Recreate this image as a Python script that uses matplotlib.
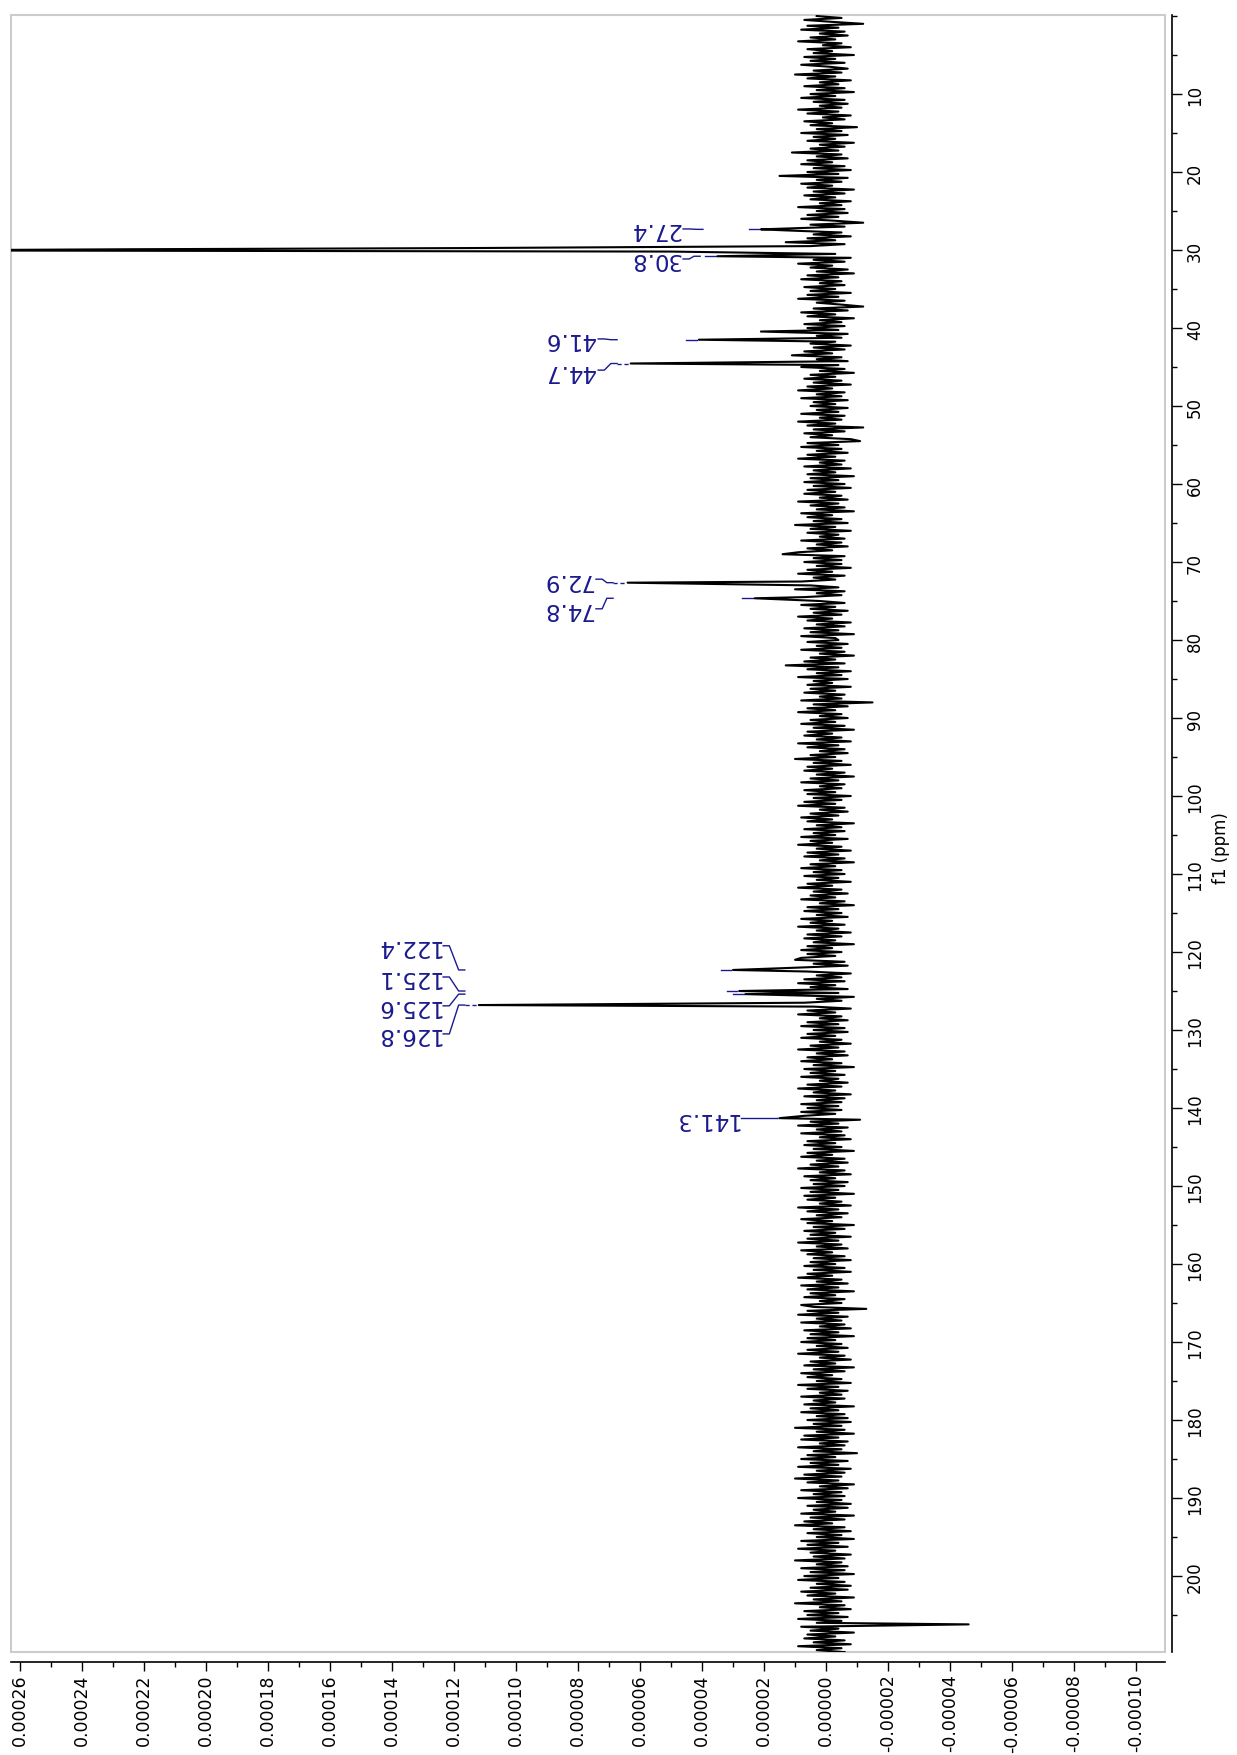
import numpy as np
import matplotlib
matplotlib.use('Agg')
import matplotlib.pyplot as plt
from matplotlib.patches import Rectangle
from matplotlib.ticker import MultipleLocator, FixedLocator, FormatStrFormatter

plt.rcParams['font.family'] = 'DejaVu Sans'

# baseline noise, units of 1e-6, one value every 0.25 ppm from 0 ppm
noise_start = 0.0
noise_step = 0.25
noise_rows = [
    [3, -5, 7, -2, -12, 6, -4, 8, -6, 2, -7, 5, -3, 9, -5, 1, -8, 6, -2, 4, -9, 7, -3, 5, -6, 8, -1, -7, 4, -5, 10, -3, 6, -8, 2, -4, 7, -6, 3, -9],
    [5, -3, 8, -6, 4, -7, 2, -5, 9, -4, 6, -8, 1, -6, 7, -2, 5, -10, 3, -5, 8, -7, 4, -3, 6, -9, 2, -6, 5, -4, 11, -5, 3, -7, 6, -2, 8, -6, 4, -8],
    [6, -4, 15, -7, 3, -5, 8, -2, 6, -9, 4, -6, 7, -3, 5, -8, 2, -5, 9, -6, 3, -7, 6, -4, 8, -3, -12, 5, -6, 7, 12, -5, 4, -8, 6, -3, 13, -6, 5, -4],
    [-5, 7, -3, 6, -8, 4, -6, 9, -2, 5, -7, 3, -9, 6, -4, 8, -5, 2, -6, 7, -3, 5, -8, 6, -4, 9, -6, 3, -5, -12, 4, -7, 8, -3, 6, -9, 2, -5, 7, -6],
    [6, -4, 8, -7, 3, -5, 9, -3, 5, -8, 4, -6, 7, -2, 11, -5, 3, -7, 6, -4, 8, -6, 2, -9, 5, -3, 7, -5, 4, -8, 6, -2, 9, -6, 3, -5, 8, -7, 4, -3],
    [5, -7, 3, -4, 8, -6, 2, -5, 9, -3, 6, -12, 4, -6, 7, -2, 5, -8, -11, 6, -4, 8, -5, 3, -7, 6, -3, 9, -6, 2, -5, 7, -8, 4, -3, 6, -9, 5, -4, 7],
    [-6, 4, -8, 6, -3, 7, -5, 2, -7, 9, -4, 5, -6, 3, -9, 8, -2, 6, -5, 4, -7, 10, -3, 5, -8, 6, -4, 2, -6, 8, -5, 3, -7, 6, -2, 9, 14, -6, 4, -5],
    [7, -5, 3, -8, 6, -2, 9, -6, 4, -3, 8, -7, 5, -4, 10, -6, 3, -5, 7, -9, 2, -6, 8, -3, 5, -7, 4, -5, 9, -2, 6, -8, 3, -6, 7, -4, 5, -9, 8, -3],
    [-4, 6, -7, 3, -5, 8, -6, 2, -9, 5, -3, 7, -6, 13, -4, 6, -8, 3, -5, 9, -7, 4, -2, 6, -8, 5, -3, 7, -6, 2, -5, 8, -15, 4, -7, 6, -3, 9, -5, 2],
    [-7, 5, -3, 8, -6, 4, -9, 6, -2, 7, -5, 3, -8, 9, -4, 6, -6, 2, -7, 5, -3, 10, -5, 4, -8, 6, -2, 7, -6, 3, -9, 5, -4, 8, -6, 2, -5, 7, -3, 6],
    [-8, 4, -5, 7, -3, 9, -6, 2, -7, 5, -4, 8, -2, 6, -9, 3, -5, 7, -6, 4, -3, 8, -7, 5, -2, 9, -5, 3, -8, 6, -4, 7, -6, 2, -9, 5, -3, 8, -5, 4],
    [-6, 7, -4, 3, -8, 6, -2, 9, -5, 4, -7, 5, -3, 8, -6, 2, -9, 6, -4, 7, -5, 3, -7, 8, -2, 5, -6, 9, -4, 3, -8, 6, -5, 7, -3, 4, -9, 6, -2, 8],
    [-5, 6, -3, 8, 10, -6, 4, -7, 9, -4, 6, -8, 3, -5, 7, -6, 9, -3, 5, -7, 8, -4, 6, -9, 3, -5, 7, -6, 4, -8, 6, -3, 9, -5, 2, -7, 6, -4, 8, -6],
    [4, -7, 6, -3, 8, -5, 2, -8, 5, -4, 9, -6, 3, -7, 6, -2, 8, -5, 4, -9, 7, -3, 5, -6, 8, -4, 2, -7, 6, -5, 9, -3, 4, -8, 7, -6, 3, -5, 8, -4],
    [6, -5, 8, -3, 7, -6, -11, 5, -4, 9, -7, 3, -5, 8, -6, 2, -8, 6, -3, 7, -5, 4, -9, 6, -2, 8, -6, 3, -7, 5, -4, 9, -6, 2, -8, 7, -3, 5, -7, 4],
    [-6, 8, -4, 5, -9, 7, -3, 6, -5, 2, -8, 9, -4, 6, -7, 3, -5, 8, -2, 6, -9, 4, -6, 7, -3, 5, -8, 6, -4, 9, -5, 3, -7, 8, -2, 6, -6, 4, -8, 5],
    [-3, 7, -6, 4, -8, 6, -2, 9, -5, 3, -7, 8, -4, 6, -9, 5, -3, 7, -6, 2, -5, 8, 4, -13, 6, -4, 9, -7, 3, -5, 8, -6, 2, -8, 7, -4, 5, -9, 6, -3],
    [8, -5, 3, -7, 6, -4, 9, -6, 2, -8, 5, -3, 7, -9, 4, -6, 8, -2, 6, -5, 3, -8, 9, -4, 6, -7, 2, -5, 8, -6, 4, -3, 7, -9, 5, -4, 8, -6, 3, -7],
    [6, -8, 4, -5, 10, -6, 3, -9, 7, -4, 8, -7, 2, -6, 9, -5, 4, -10, 6, -3, 8, -7, 5, -4, 9, -8, 3, -6, 7, -5, 10, -4, 6, -9, 2, -7, 8, -5, 4, -6],
    [9, -5, 3, -8, 6, -7, 4, -3, 8, -9, 5, -6, 7, -2, 10, -6, 4, -8, 6, -5, 3, -9, 8, -4, 6, -7, 9, -3, 5, -8, 4, -6, 10, -5, 3, -7, 8, -6, 5, -9],
    [7, -4, 9, -6, 3, -8, 5, -7, 8, -3, 6, -9, 4, -5, 10, -6, 2, -8, 7, -4, 6, -7, 9, -5, 3, -8, 8, -4, 5, -9, 6, -3, 7, -6, 4, -8, 9, -5, 3, -6],
]

# signals (ppm, intensity in 1e-6)
peak_ppm = [27.35, 29.75, 29.9, 30.05, 30.2, 30.8, 40.45, 41.5, 44.55, 72.65, 74.65,
            122.3, 125.0, 125.4, 126.8, 141.3, 206.2]
peak_int = [21, 115, 224, 300, 50, 35, 21, 41, 63, 64, 23,
            30, 28, 26, 112, 15, -46]

# peak labels
label_text = ['27.4', '30.8', '41.6', '44.7', '72.9', '74.8',
              '122.4', '125.1', '125.6', '126.8', '141.3']
label_ppm = [27.35, 30.8, 41.5, 44.55, 72.65, 74.65, 122.3, 125.0, 125.4, 126.8, 141.3]
label_y = [27.3, 31.15, 41.4, 45.4, 72.2, 76.0, 119.2, 123.2, 126.9, 130.5, 141.3]
label_x = [47.1, 47.1, 74.5, 74.5, 75.2, 75.2, 124.5, 124.5, 124.5, 124.5, 28.4]
label_join = [39.7, 40.6, 67.4, 67.4, 68.7, 68.7, 116.5, 116.5, 116.5, 116.5, 15.8]

lab_col = '#1a1a8e'

noise = np.concatenate([np.array(r, dtype=float) for r in noise_rows])
noise_ppm = noise_start + noise_step * np.arange(len(noise))
pk_ppm = np.array(peak_ppm)
pk_int = np.array(peak_int, dtype=float)

# drop baseline points that sit on top of a signal
keep = np.min(np.abs(noise_ppm[:, None] - pk_ppm[None, :]), axis=1) > 0.12
ppm = np.concatenate([noise_ppm[keep], pk_ppm])
inten = np.concatenate([noise[keep], pk_int]) * 1e-6
order = np.argsort(ppm)
ppm = ppm[order]
inten = inten[order]

fig = plt.figure(figsize=(12.37, 17.56), dpi=100)
ax = fig.add_axes([0.00889, 0.05866, 0.93290, 0.93223])

ax.plot(inten, ppm, color='black', lw=1.5, zorder=3)

ax.set_xlim(2.629e-4, -1.0935e-4)
ax.set_ylim(209.74, -0.13)

# frame + offset axes
ax.add_patch(Rectangle((0, 0), 1, 1, transform=ax.transAxes, fill=False,
                       ec='#cccccc', lw=1.5, clip_on=False, zorder=0))
ax.spines['top'].set_visible(False)
ax.spines['left'].set_visible(False)
ax.spines['bottom'].set_position(('outward', 7))
ax.spines['right'].set_position(('outward', 5))
ax.spines['bottom'].set_linewidth(1.2)
ax.spines['right'].set_linewidth(1.2)

ax.xaxis.set_major_locator(FixedLocator(np.arange(-10, 27, 2) * 1e-5))
ax.xaxis.set_minor_locator(MultipleLocator(1e-5))
ax.xaxis.set_major_formatter(FormatStrFormatter('%.5f'))

ax.yaxis.tick_right()
ax.yaxis.set_major_locator(FixedLocator(np.arange(10, 201, 10)))
ax.yaxis.set_minor_locator(MultipleLocator(5))

ax.tick_params(axis='x', which='major', length=6.5, width=1, labelsize=12.5, labelrotation=90, pad=2)
ax.tick_params(axis='x', which='minor', length=3.5, width=1)
ax.tick_params(axis='y', which='major', length=7, width=1, labelsize=12, labelrotation=90, pad=3)
ax.tick_params(axis='y', which='minor', length=3.5, width=1)
for t in ax.get_yticklabels():
    t.set_va('center')

ax.yaxis.set_label_position('right')
ax.set_ylabel('f1 (ppm)', fontsize=12)
ax.yaxis.set_label_coords(1.041, 0.492)

# peak labels with connectors
tips = dict(zip(peak_ppm, peak_int))
for txt, pp, ty, tx, tj in zip(label_text, label_ppm, label_y, label_x, label_join):
    tip = tips[pp]
    ax.text(tx * 1e-6, ty, txt, rotation=180, ha='right', va='center',
            fontsize=16.5, color=lab_col)
    xs = tx - 1.0
    ax.plot(np.array([xs, xs - 2.0, tj + 2.0, tj]) * 1e-6, [ty, ty, pp, pp],
            color=lab_col, lw=1.0)
    if tj - tip > 5:
        ax.plot(np.array([tip + 4.0, tip + 0.6]) * 1e-6, [pp, pp], color=lab_col, lw=1.0)
    else:
        ax.plot(np.array([tj, tip + 0.6]) * 1e-6, [pp, pp], color=lab_col, lw=1.0,
                ls=(0, (3, 2)))

fig.savefig('out.png', dpi=100)
